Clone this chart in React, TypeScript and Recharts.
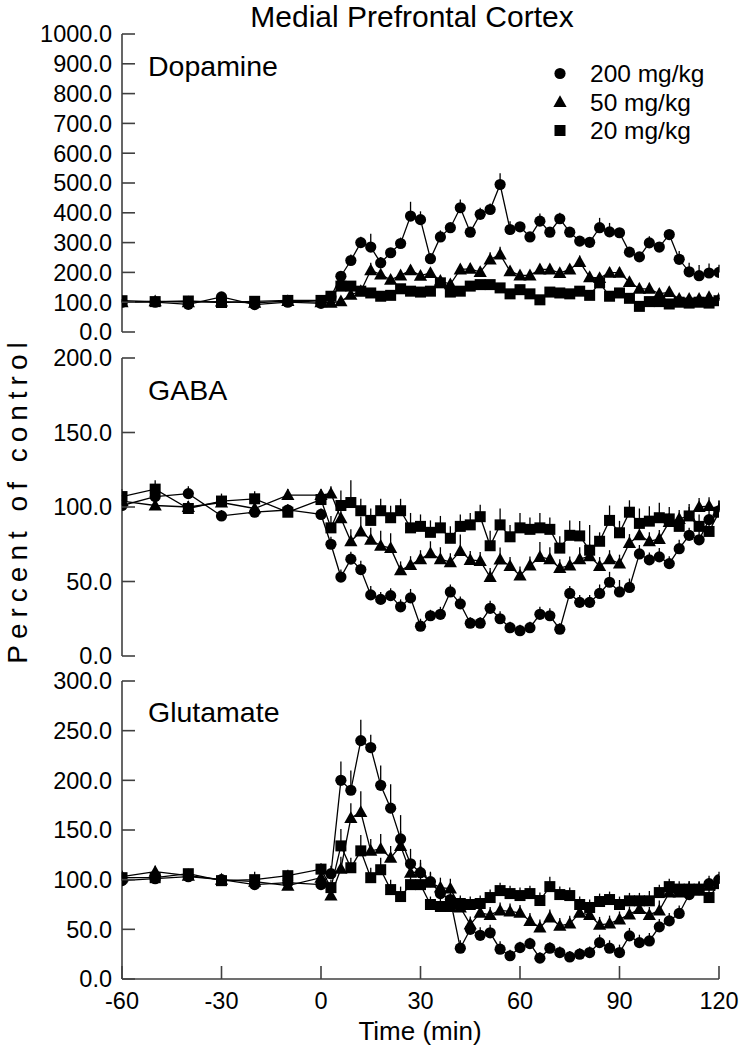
import React from 'react';
import { LineChart, Line, XAxis, YAxis, ErrorBar } from 'recharts';

// sampling times (min)
const times = [-60, -50, -40, -30, -20, -10, 0,
  3, 6, 9, 12, 15, 18, 21, 24, 27,
  30, 33, 36, 39, 42, 45, 48, 51, 54,
  57, 60, 63, 66, 69, 72, 75, 78, 81,
  84, 87, 90, 93, 96, 99, 102, 105, 108,
  111, 114, 117, 120];

const doseLabels = ['200 mg/kg', '50 mg/kg', '20 mg/kg'];
const xTicks = [-60, -30, 0, 30, 60, 90, 120];
const daTicks = [0, 100, 200, 300, 400, 500, 600, 700, 800, 900, 1000];
const gabaTicks = [0, 50, 100, 150, 200];
const gluTicks = [0, 50, 100, 150, 200, 250, 300];

// Dopamine
const da200 = [100, 100, 93, 118, 92, 100, 96,
  118, 187, 240, 300, 285, 232, 266, 297, 389,
  377, 246, 319, 350, 417, 335, 395, 411, 495,
  344, 353, 319, 372, 335, 380, 335, 305, 301,
  350, 336, 333, 268, 252, 299, 285, 327, 244,
  202, 189, 198, 200];
const da50 = [100, 103, 100, 102, 98, 104, 100,
  98, 103, 125, 137, 207, 193, 175, 190, 207,
  189, 198, 172, 160, 210, 212, 201, 243, 260,
  204, 190, 190, 210, 210, 198, 210, 235, 184,
  181, 199, 199, 168, 145, 145, 128, 134, 111,
  111, 111, 117, 111];
const da20 = [105, 102, 104, 99, 103, 106, 106,
  120, 154, 154, 137, 131, 120, 123, 145, 137,
  134, 137, 165, 134, 137, 154, 159, 159, 148,
  128, 142, 128, 108, 134, 131, 128, 137, 123,
  165, 120, 131, 113, 86, 102, 102, 94, 100,
  97, 100, 97, 105];
const daE200 = [8, 6, 8, 12, 6, 8, 6,
  10, 15, 20, 20, 45, 20, 15, 20, 48,
  28, 15, 22, 15, 28, 15, 22, 20, 38,
  28, 15, 15, 26, 15, 20, 15, 15, 15,
  33, 30, 15, 15, 15, 22, 15, 15, 28,
  30, 36, 32, 26];
const daE50 = [5, 5, 5, 5, 5, 5, 5,
  6, 8, 12, 15, 25, 15, 15, 15, 18,
  15, 15, 15, 15, 17, 18, 15, 25, 26,
  15, 15, 15, 18, 15, 15, 15, 22, 15,
  15, 18, 18, 15, 20, 20, 18, 15, 15,
  15, 15, 15, 15];
const daE20 = [6, 5, 6, 5, 5, 6, 6,
  8, 15, 12, 10, 10, 10, 10, 12, 10,
  10, 10, 15, 10, 10, 10, 10, 10, 10,
  10, 10, 10, 10, 10, 10, 10, 10, 10,
  20, 10, 10, 10, 10, 10, 10, 10, 10,
  10, 10, 10, 10];

// GABA
const gaba200 = [101, 107, 109, 94, 96.5, 98, 95,
  75, 53, 65, 58, 41, 38, 40.5, 33, 39,
  20, 27, 28, 43, 35, 22, 22, 32, 25,
  19, 17, 19, 28, 27, 18, 42, 36, 36,
  42, 49.5, 43, 46, 68.5, 64.5, 66.5, 62, 72,
  81, 78, 91.5, 97.5];
const gaba50 = [104, 101, 100, 103, 99, 108, 108,
  109, 92.5, 77, 83.6, 78, 74, 72.4, 57.5, 61,
  65, 69, 65, 63, 70.5, 64.5, 63.8, 53, 64.8,
  60.4, 54, 60.8, 66.5, 65, 59, 60.8, 65, 67,
  60.4, 65, 62, 75.8, 81, 77, 78.6, 90, 92,
  94, 100, 100.6, 98];
const gaba20 = [107, 112, 99, 104, 105.5, 96.5, 105,
  86, 101, 103, 97.5, 91, 97.5, 92.8, 97.5, 86,
  87, 83, 86, 79, 87, 88, 93.5, 74, 88,
  80, 86, 85, 86, 85, 72.4, 81, 80.6, 71,
  77, 91, 82.7, 96.5, 89, 90.5, 92.8, 92, 87,
  94, 87, 83.6, 96.5];
const gabaE200 = [4, 4, 5, 4, 4, 4, 4,
  5, 5, 5, 6, 6, 5, 5, 5, 6,
  5, 4, 5, 5, 5, 4, 4, 5, 5,
  4, 4, 4, 5, 5, 4, 5, 5, 5,
  6, 7, 8, 6, 6, 5, 6, 5, 6,
  5, 6, 6, 5];
const gabaE50 = [4, 5, 4, 4, 4, 4, 4,
  5, 10, 8, 10, 8, 10, 10, 6, 6,
  6, 8, 8, 6, 11, 6, 6, 6, 8,
  6, 6, 6, 10, 8, 6, 6, 8, 8,
  6, 6, 6, 6, 6, 6, 6, 6, 6,
  6, 6, 6, 6];
const gabaE20 = [5, 6, 5, 5, 5, 4, 6,
  8, 10, 15, 8, 8, 8, 8, 8, 10,
  8, 8, 8, 8, 8, 8, 8, 10, 11,
  8, 10, 8, 10, 8, 8, 10, 10, 17,
  6, 10, 8, 8, 10, 10, 10, 8, 8,
  8, 8, 8, 8];

// Glutamate
const glu200 = [99, 101, 103, 100, 95, 97, 95,
  106, 200, 190, 240, 233, 195, 172, 141, 116,
  107, 98, 86, 80, 31, 50, 44, 46.5, 30,
  23.4, 31.6, 35.6, 21, 31, 26.6, 22.2, 25, 26.6,
  36.6, 31, 26.6, 43.4, 36.6, 38.3, 52.5, 58.5, 66,
  85, 90, 96, 100];
const glu50 = [103, 108, 104, 100, 98, 94, 102,
  84, 111, 162, 168, 129, 131, 122, 134, 107,
  108, 97, 92, 91, 72, 55, 66.6, 64.5, 69,
  68, 66.6, 58.5, 51.8, 62, 53.5, 55.8, 66.6, 64.5,
  54.5, 55.8, 60, 65, 70.5, 64.5, 69, 87, 87,
  90.5, 88.8, 93.8, 96];
const glu20 = [102, 102, 106, 99, 100, 104, 110.6,
  92, 134, 112, 129, 102, 110, 90, 83, 95,
  95, 75, 73, 73, 76, 75, 76, 82, 89,
  86, 84, 86, 79, 93, 85, 84, 75, 72,
  78, 80, 75, 78.7, 78.7, 78.7, 87, 93, 90.5,
  90.5, 90.5, 82, 96];
const gluE200 = [5, 5, 5, 5, 5, 5, 5,
  8, 19, 20, 21, 13, 20, 24, 24, 15,
  10, 10, 10, 10, 8, 8, 8, 8, 8,
  6, 6, 6, 6, 6, 6, 6, 6, 6,
  8, 8, 8, 8, 8, 8, 8, 8, 8,
  8, 8, 8, 8];
const gluE50 = [5, 6, 5, 5, 5, 5, 5,
  8, 12, 15, 21, 12, 15, 12, 15, 12,
  12, 10, 10, 10, 10, 8, 8, 8, 8,
  8, 8, 8, 8, 8, 8, 8, 8, 8,
  8, 8, 8, 8, 8, 8, 10, 10, 8,
  8, 8, 8, 8];
const gluE20 = [5, 5, 5, 5, 8, 6, 6,
  8, 17, 10, 16, 10, 12, 10, 10, 10,
  8, 8, 8, 8, 8, 8, 8, 8, 8,
  8, 8, 8, 8, 10, 8, 8, 8, 8,
  8, 8, 8, 8, 8, 10, 8, 8, 8,
  8, 8, 8, 8];

const buildRows = (a: number[], b: number[], c: number[], ea: number[], eb: number[], ec: number[]) =>
  times.map((t, i) => ({
    t,
    c: a[i], tr: b[i], s: c[i],
    cE: [0, ea[i]], trE: [0, eb[i]], sE: [0, ec[i]],
  }));

const daRows = buildRows(da200, da50, da20, daE200, daE50, daE20);
const gabaRows = buildRows(gaba200, gaba50, gaba20, gabaE200, gabaE50, gabaE20);
const gluRows = buildRows(glu200, glu50, glu20, gluE200, gluE50, gluE20);

const FONT = 'Liberation Sans, Arial, Helvetica, sans-serif';
const AXIS = '#404040';
const PLOT_H = 298;
const PAD = 20;
const TICK_LEN = 13;

function Marker({ cx, cy, shape }: { cx?: number; cy?: number; shape: string }) {
  if (cx == null || cy == null) return null;
  if (shape === 'circle') return <circle cx={cx} cy={cy} r={5.6} fill="#000" />;
  if (shape === 'triangle')
    return <polygon points={`${cx},${cy - 6.8} ${cx + 6.6},${cy + 5} ${cx - 6.6},${cy + 5}`} fill="#000" />;
  return <rect x={cx - 5.5} y={cy - 5.5} width={11} height={11} fill="#000" />;
}

const dotFor = (shape: string) => (p: any) => <Marker key={`${shape}-${p.index}`} cx={p.cx} cy={p.cy} shape={shape} />;

const leftTick = (p: any) => (
  <g>
    <line x1={p.x} y1={p.y} x2={p.x + TICK_LEN} y2={p.y} stroke={AXIS} strokeWidth={1.6} />
    <text x={p.x - 10} y={p.y} dy="0.36em" textAnchor="end" fontSize={23.5} fontFamily={FONT} fill="#000">
      {Number(p.payload.value).toFixed(1)}
    </text>
  </g>
);

const rightTick = (p: any) => (
  <line x1={p.x} y1={p.y} x2={p.x - TICK_LEN} y2={p.y} stroke={AXIS} strokeWidth={1.6} />
);

const topTick = (p: any) => (
  <line x1={p.x} y1={p.y} x2={p.x} y2={p.y + TICK_LEN} stroke={AXIS} strokeWidth={1.6} />
);

const bottomTick = (showLabel: boolean) => (p: any) => (
  <g>
    <line x1={p.x} y1={p.y} x2={p.x} y2={p.y - TICK_LEN} stroke={AXIS} strokeWidth={1.6} />
    {showLabel && (
      <text x={p.x} y={p.y + 29.5} textAnchor="middle" fontSize={23.5} fontFamily={FONT} fill="#000">
        {p.payload.value}
      </text>
    )}
  </g>
);

interface PanelProps {
  rows: any[];
  domain: [number, number];
  ticks: number[];
  top: number;
  showX?: boolean;
}

function Panel({ rows, domain, ticks, top, showX = false }: PanelProps) {
  const axisH = showX ? 45 : 0;
  const height = PLOT_H + 2 * PAD + axisH;
  const axisLine = { stroke: AXIS, strokeWidth: 1.6 };
  return (
    <div style={{ position: 'absolute', left: 0, top: top - PAD }}>
      <LineChart width={742} height={height} data={rows} margin={{ top: PAD, right: 23, bottom: PAD, left: 0 }}>
        <XAxis xAxisId="b" dataKey="t" type="number" domain={[-60, 120]} ticks={xTicks} orientation="bottom"
          height={axisH} tickSize={0} tickMargin={0} tickLine={false} axisLine={axisLine} tick={bottomTick(showX)}
          interval={0} allowDataOverflow />
        <XAxis xAxisId="t" type="number" domain={[-60, 120]} ticks={xTicks} orientation="top"
          height={0} tickSize={0} tickMargin={0} tickLine={false} axisLine={axisLine} tick={topTick}
          interval={0} allowDataOverflow />
        <YAxis yAxisId="l" type="number" domain={domain} ticks={ticks} width={122} tickSize={0} tickMargin={0}
          tickLine={false} axisLine={axisLine} tick={leftTick} interval={0} allowDataOverflow />
        <YAxis yAxisId="r" orientation="right" type="number" domain={domain} ticks={ticks} width={0} tickSize={0}
          tickMargin={0} tickLine={false} axisLine={axisLine} tick={rightTick} interval={0} allowDataOverflow />
        <Line xAxisId="b" yAxisId="l" type="linear" dataKey="s" stroke="#000" strokeWidth={1.3}
          dot={dotFor('square')} activeDot={false} isAnimationActive={false}>
          <ErrorBar dataKey="sE" direction="y" width={0} stroke="#000" strokeWidth={1.3} isAnimationActive={false} />
        </Line>
        <Line xAxisId="b" yAxisId="l" type="linear" dataKey="tr" stroke="#000" strokeWidth={1.3}
          dot={dotFor('triangle')} activeDot={false} isAnimationActive={false}>
          <ErrorBar dataKey="trE" direction="y" width={0} stroke="#000" strokeWidth={1.3} isAnimationActive={false} />
        </Line>
        <Line xAxisId="b" yAxisId="l" type="linear" dataKey="c" stroke="#000" strokeWidth={1.3}
          dot={dotFor('circle')} activeDot={false} isAnimationActive={false}>
          <ErrorBar dataKey="cE" direction="y" width={0} stroke="#000" strokeWidth={1.3} isAnimationActive={false} />
        </Line>
      </LineChart>
    </div>
  );
}

export default function App() {
  const legendShapes = ['circle', 'triangle', 'square'];
  const legendBase = [82, 110.5, 139];
  return (
    <div style={{ position: 'absolute', left: 0, top: 0, width: 742, height: 1050, background: '#fff' }}>
      <Panel rows={daRows} domain={[0, 1000]} ticks={daTicks} top={34} />
      <Panel rows={gabaRows} domain={[0, 200]} ticks={gabaTicks} top={358} />
      <Panel rows={gluRows} domain={[0, 300]} ticks={gluTicks} top={681} showX />
      <svg width={742} height={1050} style={{ position: 'absolute', left: 0, top: 0, pointerEvents: 'none' }}>
        <g fontFamily={FONT} fill="#000">
          <text x={412} y={27} textAnchor="middle" fontSize={30}>Medial Prefrontal Cortex</text>
          <text x={148} y={76} fontSize={28.5}>Dopamine</text>
          <text x={148} y={399.5} fontSize={28.5}>GABA</text>
          <text x={148} y={721.5} fontSize={28.5}>Glutamate</text>
          <text x={420} y={1039.5} textAnchor="middle" fontSize={26}>Time (min)</text>
          <text x={0} y={0} transform="translate(27.3,500) rotate(-90)" textAnchor="middle" fontSize={28}
            letterSpacing={6}>Percent of control</text>
          {doseLabels.map((d, i) => (
            <g key={d}>
              <Marker cx={560} cy={legendBase[i] - 8.5} shape={legendShapes[i]} />
              <text x={590} y={legendBase[i]} fontSize={24.5}>{d}</text>
            </g>
          ))}
        </g>
      </svg>
    </div>
  );
}
